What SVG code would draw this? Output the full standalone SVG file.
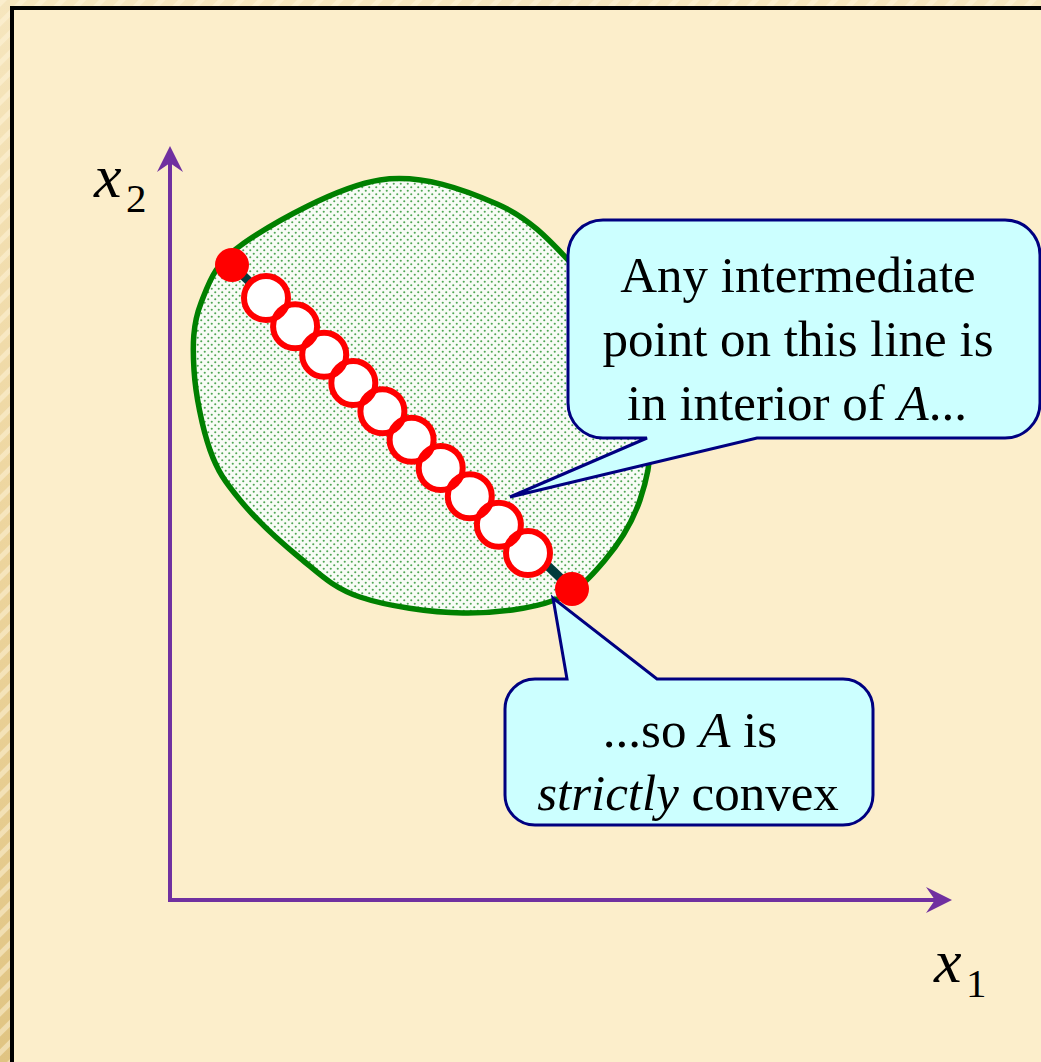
<svg xmlns="http://www.w3.org/2000/svg" width="1041" height="1062" viewBox="0 0 1041 1062">
  <defs>
    <linearGradient id="edgeGrad" x1="0" y1="0" x2="0" y2="1">
      <stop offset="0" stop-color="#F6E6BE"/>
      <stop offset="0.5" stop-color="#EDD59E"/>
      <stop offset="1" stop-color="#E0C482"/>
    </linearGradient>
    <pattern id="stripes" width="14" height="14" patternUnits="userSpaceOnUse" patternTransform="rotate(45)">
      <rect width="14" height="14" fill="none"/>
      <rect width="5" height="14" fill="#FFF6DC" opacity="0.5"/>
    </pattern>
    <pattern id="dots" width="7" height="7" patternUnits="userSpaceOnUse">
      <rect width="7" height="7" fill="#F8FCF6"/>
      <circle cx="1.75" cy="1.75" r="1.05" fill="#4FA654"/>
      <circle cx="5.25" cy="5.25" r="1.05" fill="#4FA654"/>
    </pattern>
    <marker id="arrow" viewBox="-18 -14 30 28" refX="0" refY="0" markerWidth="30" markerHeight="28" markerUnits="userSpaceOnUse" orient="auto-start-reverse">
      <path d="M11,0 L-15,-13 L-6,0 L-15,13 Z" fill="#7030A0"/>
    </marker>
    <style>
      .axis { fill: none; stroke: #7030A0; stroke-width: 4; }
      .callout { fill: #CCFFFF; stroke: #000080; stroke-width: 3; stroke-linejoin: miter; }
      .txt { font-family: "Liberation Serif", "Times New Roman", serif; font-size: 51px; fill: #000; text-anchor: middle; }
      .it { font-style: italic; }
      .lbl { font-family: "Liberation Serif", "Times New Roman", serif; fill: #000; }
      .ring { fill: none; stroke: #FF0000; stroke-width: 6; }
      .hole { fill: #FFFFFF; }
      .end { fill: #FF0000; }
    </style>
  </defs>

  <g id="background">
    <rect x="0" y="0" width="1041" height="1062" fill="url(#edgeGrad)"/>
    <rect x="0" y="0" width="1041" height="1062" fill="url(#stripes)"/>
    <rect x="12" y="8" width="1040" height="1070" fill="#FCEECB" stroke="#000" stroke-width="4"/>
  </g>

  <g id="connectors">
    <path id="axes" class="axis" d="M170,157 V900 H941" marker-start="url(#arrow)" marker-end="url(#arrow)"/>
  </g>

  <g id="label-x2" class="lbl">
    <text x="94" y="197" font-size="62" font-style="italic">x</text>
    <text x="126" y="212" font-size="41">2</text>
  </g>
  <g id="label-x1" class="lbl">
    <text x="934" y="982" font-size="62" font-style="italic">x</text>
    <text x="966" y="997" font-size="41">1</text>
  </g>

  <g id="set-A">
    <path d="M380,180 C422.2,173.5 465.3,190.3 497,204 C528.7,217.7 548.7,239.3 570,262 C591.3,284.7 611.7,312 625,340 C638.3,368 647.5,403.3 650,430 C652.5,456.7 647.5,478.3 640,500 C632.5,521.7 619.2,543.3 605,560 C590.8,576.7 578.7,591.2 555,600 C531.3,608.8 495.5,613.5 463,613 C430.5,612.5 387.2,606.2 360,597 C332.8,587.8 320,574.2 300,558 C280,541.8 255,518.3 240,500 C225,481.7 217.7,471.7 210,450 C202.3,428.3 195.5,394.5 194,370 C192.5,345.5 192.7,324.2 201,303 C209.3,281.8 214.2,263.5 244,243 C273.8,222.5 337.8,186.5 380,180 Z" fill="url(#dots)" stroke="#008000" stroke-width="5.5"/>
  </g>

  <g id="segment">
    <line x1="232" y1="265" x2="572" y2="589" stroke="#003C3C" stroke-width="9"/>
    <circle class="end" cx="232" cy="265" r="17"/>
    <circle class="end" cx="572" cy="589" r="17"/>
    <g id="intermediate-points">
      <circle class="hole" cx="266" cy="298" r="22"/>
      <circle class="hole" cx="295.1" cy="326.3" r="22"/>
      <circle class="hole" cx="324.2" cy="354.7" r="22"/>
      <circle class="hole" cx="353.3" cy="383" r="22"/>
      <circle class="hole" cx="382.4" cy="411.3" r="22"/>
      <circle class="hole" cx="411.6" cy="439.7" r="22"/>
      <circle class="hole" cx="440.7" cy="468" r="22"/>
      <circle class="hole" cx="469.8" cy="496.3" r="22"/>
      <circle class="hole" cx="498.9" cy="524.7" r="22"/>
      <circle class="hole" cx="528" cy="553" r="22"/>
      <circle class="ring" cx="266" cy="298" r="22"/>
      <circle class="ring" cx="295.1" cy="326.3" r="22"/>
      <circle class="ring" cx="324.2" cy="354.7" r="22"/>
      <circle class="ring" cx="353.3" cy="383" r="22"/>
      <circle class="ring" cx="382.4" cy="411.3" r="22"/>
      <circle class="ring" cx="411.6" cy="439.7" r="22"/>
      <circle class="ring" cx="440.7" cy="468" r="22"/>
      <circle class="ring" cx="469.8" cy="496.3" r="22"/>
      <circle class="ring" cx="498.9" cy="524.7" r="22"/>
      <circle class="ring" cx="528" cy="553" r="22"/>
    </g>
  </g>

  <g id="callout-interior">
    <path class="callout" d="M603,220 H1005 A35,35 0 0 1 1040,255 V403 A35,35 0 0 1 1005,438 H757 L510,497 L647,438 H603 A35,35 0 0 1 568,403 V255 A35,35 0 0 1 603,220 Z"/>
    <text class="txt" x="798" y="292">Any intermediate</text>
    <text class="txt" x="798" y="356">point on this line is</text>
    <text class="txt" x="797" y="420">in interior of <tspan class="it">A</tspan>...</text>
  </g>

  <g id="callout-strict">
    <path class="callout" d="M535,679 H567 L553,598 L657,679 H843 A30,30 0 0 1 873,709 V795 A30,30 0 0 1 843,825 H535 A30,30 0 0 1 505,795 V709 A30,30 0 0 1 535,679 Z"/>
    <text class="txt" x="690" y="747">...so <tspan class="it">A</tspan> is</text>
    <text class="txt" x="688" y="810"><tspan class="it">strictly</tspan> convex</text>
  </g>
</svg>
